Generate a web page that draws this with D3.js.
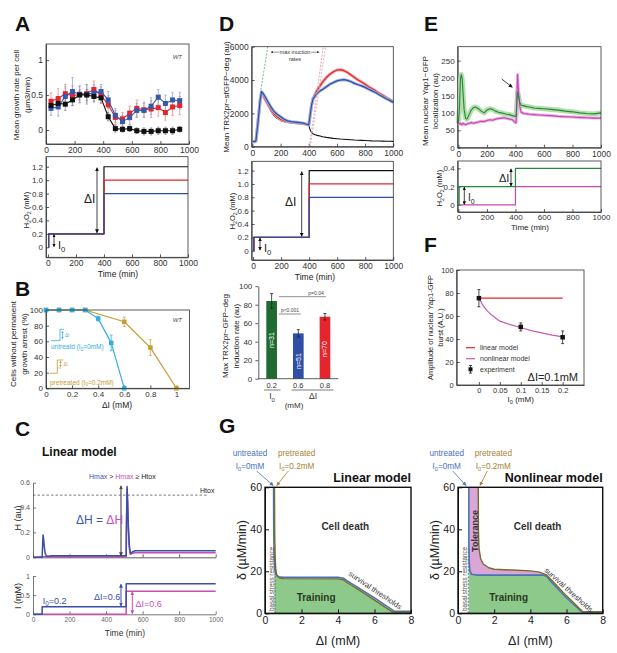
<!DOCTYPE html>
<html>
<head>
<meta charset="utf-8">
<title>Training and tolerance</title>
<script src="https://d3js.org/d3.v7.min.js"></script>
<style>
body { margin: 0; background: #fff; }
</style>
</head>
<body>
<script>
// ---------------- data ----------------
// A: mean growth rate per cell
var aTime = [35,85,135,185,235,285,335,385,435,485,535,585,635,685,735,785,835,885,935];
var aBlack = [0.35,0.38,0.37,0.43,0.50,0.50,0.48,0.46,0.19,0.02,0.01,0.02,-0.01,-0.02,-0.02,-0.01,-0.01,-0.01,0.01];
var aBlackErr = [0.06,0.07,0.09,0.08,0.07,0.08,0.08,0.07,0.06,0.05,0.04,0.04,0.04,0.05,0.05,0.05,0.05,0.05,0.04];
var aRed = [0.41,0.45,0.52,0.49,0.51,0.52,0.58,0.50,0.36,0.18,0.16,0.24,0.31,0.29,0.30,0.32,0.25,0.33,0.35];
var aRedErr = [0.12,0.14,0.13,0.14,0.12,0.13,0.12,0.12,0.13,0.10,0.09,0.10,0.12,0.11,0.12,0.12,0.11,0.12,0.13];
var aBlue = [0.31,0.33,0.48,0.55,0.51,0.51,0.53,0.55,0.43,0.21,0.12,0.18,0.28,0.28,0.34,0.47,0.38,0.43,0.42];
var aBlueErr = [0.10,0.13,0.14,0.20,0.12,0.14,0.12,0.10,0.12,0.10,0.09,0.10,0.10,0.10,0.12,0.11,0.12,0.11,0.12];

// H2O2 protocols (A, D)
var stepTime = [0, 5, 400, 1000];
var stepBlue = [0, 0.2, 0.8, 0.8];
var stepRed = [0, 0.2, 1.0, 1.0];
var stepBlack = [0, 0.2, 1.2, 1.2];

// B: survival
var bDose = [0, 0.1, 0.2, 0.3, 0.4, 0.5, 0.6];
var bUntreated = [100, 100, 100, 100, 89, 58, 0];
var bUntreatedErr = [0, 0, 0, 0, 3, 10, 0];
var bDosePre = [0, 0.1, 0.2, 0.3, 0.6, 0.8, 1.0];
var bPre = [100, 100, 100, 100, 85, 52, 0];
var bPreErr = [0, 0, 0, 0, 6, 10, 0];

// C: linear model
var cHBlue = [[0,0],[50,0],[52,0.08],[55,0.18],[58,0.15],[62,0.08],[67,0.03],[73,0.012],[80,0.008],[100,0.012],[510,0.012],[512,0.3],[515,0.57],[518,0.45],[522,0.25],[527,0.1],[532,0.04],[537,0.03],[545,0.045],[560,0.052],[1000,0.052]];
var cHPink = [[0,0],[60,0.004],[510,0.006],[512,0.3],[515,0.55],[518,0.42],[522,0.22],[527,0.08],[532,0.025],[540,0.03],[555,0.036],[1000,0.037]];
var cStepTime = [0, 50, 510, 1000];
var cIBlue = [0, 0.2, 0.8, 0.8];
var cIPink = [0, 0, 0.6, 0.6];

// D: TRX2pr-sfGFP-deg
var dTime = [0,15,25,40,55,65,75,90,110,130,150,175,200,225,250,275,300,325,350,375,400,410,420,430,445,460,480,500,525,550,575,600,625,650,675,700,725,750,775,800,825,850,875,900,925,950,975,1000];
var dBlack = [320,300,350,1500,2700,3150,3050,2800,2500,2150,1900,1700,1580,1500,1450,1420,1400,1380,1370,1340,1300,1000,850,780,720,680,640,600,560,530,500,480,460,445,430,415,400,390,380,370,360,350,345,340,335,330,325,320];
var dRed = [320,300,350,1500,2750,3200,3100,2850,2550,2250,2000,1800,1650,1550,1500,1470,1450,1420,1400,1350,1300,1900,2500,2900,3150,3400,3650,3900,4150,4350,4500,4600,4620,4560,4450,4300,4150,4000,3880,3750,3600,3480,3350,3200,3080,2950,2830,2700];
var dBlue = [320,300,350,1500,2800,3300,3200,3000,2700,2400,2150,1950,1800,1650,1550,1500,1480,1460,1430,1380,1300,1900,2500,2850,3050,3200,3350,3450,3600,3750,3850,3950,4000,4020,3980,3900,3800,3720,3650,3560,3450,3350,3250,3120,3000,2880,2780,2650];
var dTangentGreen = [[56,3200],[109,6000]];
var dTangentPink = [[405,0],[503,6000]];
var dTangentRed = [[410,0],[520,6000]];
var dBarCats = ["0.2", "0.6", "0.8"];
var dBarRates = [84, 49, 67];
var dBarErr = [8, 4, 3.5];
var dBarN = ["n=31", "n=51", "n=70"];

// E: nuclear Yap1-GFP
var eTime = [0,8,14,20,26,32,40,50,60,75,90,105,120,140,160,180,200,220,240,260,280,300,320,340,360,380,400,405,410,415,420,430,440,460,480,500,530,560,600,650,700,750,800,850,900,950,1000];
var eGreen = [70,120,195,210,200,160,110,85,82,95,108,115,117,112,105,100,108,112,110,105,102,100,98,96,95,92,90,92,130,160,150,130,122,120,118,117,114,113,112,110,108,105,103,100,98,97,100];
var eMagenta = [70,68,70,68,66,70,68,66,68,70,72,70,72,74,76,75,78,80,79,82,84,85,86,84,82,80,72,72,150,210,170,120,102,98,97,96,95,94,93,92,90,89,88,87,86,85,85];
var eStepTime = [0, 5, 400, 1000];
var eIGreen = [0, 0.2, 0.4, 0.4];
var eIMagenta = [0, 0, 0.2, 0.2];

// F: burst amplitude
var fI0 = [0, 0.1, 0.2];
var fAmp = [75.5, 50.5, 41.5];
var fAmpErr = [7.5, 3.5, 5.5];
var fLinI0 = [0, 0.2];
var fLin = [75.5, 75.5];
var fNonI0 = [0, 0.01, 0.02, 0.03, 0.05, 0.075, 0.1, 0.125, 0.15, 0.175, 0.2];
var fNon = [75.5, 69, 64.5, 61, 55.5, 52.5, 50, 47.3, 45.3, 43.3, 41.8];

// G: survival thresholds (dI, delta)
var gLinBlue = [[0.47,60],[0.48,40],[0.5,28],[0.54,21],[0.6,18.4],[0.75,17.4],[1,17.1],[4,17.1],[4.3,16.7],[4.5,15.4],[4.7,14.4],[5,12.8],[6,7.3],[7,1.5],[7.1,0.9],[8,0.9]];
var gLinBrown = [[0.52,60],[0.53,40],[0.55,28],[0.59,21],[0.65,18],[0.8,16.8],[1,16.5],[4,16.4],[4.3,16],[4.5,14.6],[4.7,13.6],[5,12],[6,6.3],[7,0.6],[8,0.6]];
var gNlBlue = [[0.6,60],[0.6,35],[0.62,24],[0.66,20],[0.75,18.6],[1,18.2],[4.7,18.2],[4.9,17.6],[5.2,14.6],[6,7.4],[6.85,0.7],[8,0.7]];
var gNlBrown = [[1.12,60],[1.13,40],[1.16,31],[1.25,26],[1.4,23.5],[1.7,21.7],[2,21],[3,20.6],[4,20.2],[4.5,19.6],[4.9,18.3],[5.2,15.6],[6,8.3],[6.9,0.7],[8,0.7]];

// ---------------- helpers ----------------
var FONT = "'Liberation Sans', Arial, Helvetica, sans-serif";
var svg = d3.select("body").append("svg").attr("width", 617).attr("height", 653)
  .attr("font-family", FONT);
var defs = svg.append("defs");

function rich(x, y, parts, size, o) {
  o = o || {};
  var t = svg.append("text").attr("x", x).attr("y", y).attr("font-size", size)
    .attr("fill", o.fill || "#222").attr("text-anchor", o.anchor || "start");
  if (o.bold) t.attr("font-weight", "bold");
  if (o.italic) t.attr("font-style", "italic");
  if (o.rot) t.attr("transform", "rotate(" + o.rot + "," + x + "," + y + ")");
  var shift = 0;
  (typeof parts === "string" ? [[parts]] : parts).forEach(function (p) {
    var s = t.append("tspan").text(p[0]);
    var target = p[1] ? size * 0.3 : 0;
    if (target !== shift) s.attr("dy", target - shift);
    shift = target;
    if (p[1]) s.attr("font-size", size * 0.7);
    if (p[2]) s.attr("fill", p[2]);
  });
  return t;
}

function ax(scale, orient, pos, ticks, fmt, o) {
  o = o || {};
  var gen = (orient === "b" ? d3.axisBottom : d3.axisLeft)(scale)
    .tickValues(ticks).tickFormat(fmt || function (d) { return d; })
    .tickSizeOuter(0).tickSizeInner(o.out ? 3 : -(o.tick || 3)).tickPadding(o.pad != null ? o.pad : 3);
  var g = svg.append("g")
    .attr("transform", orient === "b" ? "translate(0," + pos + ")" : "translate(" + pos + ",0)")
    .call(gen).attr("font-family", FONT).attr("font-size", o.size || 8);
  g.selectAll("path,line").attr("stroke", o.line || "#333").attr("stroke-width", o.lw || 0.8);
  g.selectAll(".tick text").attr("fill", o.color || "#333");
  return g;
}

function box(x0, y0, x1, y1, w, c) {
  svg.append("rect").attr("x", x0).attr("y", y0).attr("width", x1 - x0).attr("height", y1 - y0)
    .attr("fill", "none").attr("stroke", c || "#333").attr("stroke-width", w || 0.8);
}

var mcount = 0;
function arrow(x1, y1, x2, y2, color, w, both, size) {
  var id = "m" + (mcount++);
  size = size || 5;
  defs.append("marker").attr("id", id).attr("viewBox", "0 0 10 10").attr("refX", 9).attr("refY", 5)
    .attr("markerWidth", size).attr("markerHeight", size).attr("markerUnits", "userSpaceOnUse")
    .attr("orient", "auto-start-reverse")
    .append("path").attr("d", "M0,0L10,5L0,10z").attr("fill", color);
  var l = svg.append("line").attr("x1", x1).attr("y1", y1).attr("x2", x2).attr("y2", y2)
    .attr("stroke", color).attr("stroke-width", w || 1).attr("marker-end", "url(#" + id + ")");
  if (both) l.attr("marker-start", "url(#" + id + ")");
}

function path(d, color, w, dash) {
  var p = svg.append("path").attr("d", d).attr("fill", "none").attr("stroke", color)
    .attr("stroke-width", w || 1).attr("stroke-linejoin", "round");
  if (dash) p.attr("stroke-dasharray", dash);
  return p;
}

function stepLine(x, y, times, vals) {
  return d3.line().curve(d3.curveStepAfter).x(function (d, i) { return x(times[i]); })
    .y(function (d) { return y(d); })(vals);
}
function xyLine(x, y, xs, ys) {
  return d3.line().x(function (d, i) { return x(xs[i]); }).y(function (d) { return y(d); })(ys);
}
function pairLine(x, y, pts) {
  return d3.line().x(function (d) { return x(d[0]); }).y(function (d) { return y(d[1]); })(pts);
}
function errBars(x, y, xs, ys, es, color, cap) {
  ys.forEach(function (v, i) {
    if (!es[i]) return;
    var cx = x(xs[i]), a = y(v - es[i]), b = y(v + es[i]);
    path("M" + cx + "," + a + "V" + b + "M" + (cx - cap) + "," + a + "H" + (cx + cap) +
      "M" + (cx - cap) + "," + b + "H" + (cx + cap), color, 0.8);
  });
}
function squares(x, y, xs, ys, color, s) {
  svg.append("g").selectAll("rect").data(ys).join("rect")
    .attr("x", function (d, i) { return x(xs[i]) - s / 2; })
    .attr("y", function (d) { return y(d) - s / 2; })
    .attr("width", s).attr("height", s).attr("fill", color);
}
var f1 = function (d) { return d === 0 ? "0" : d3.format(".1f")(d); };

// ---------------- panel letters ----------------
[["A", 15, 31], ["B", 15, 296], ["C", 15, 436], ["D", 219, 31], ["E", 424, 31], ["F", 424, 252], ["G", 219, 433]]
  .forEach(function (p) { rich(p[1], p[2], p[0], 21, { bold: true, fill: "#111" }); });

// ---------------- A ----------------
var xA = d3.scaleLinear([0, 1000], [46, 189]);
var yA = d3.scaleLinear([-0.2, 1.23], [144, 44]);
ax(xA, "b", 144, [0, 200, 400, 600, 800, 1000], null, { size: 8.5 });
ax(yA, "l", 46, [0, 0.5, 1], null, { size: 8.5 });
errBars(xA, yA, aTime, aRed, aRedErr, "#f08a8a", 1.2);
errBars(xA, yA, aTime, aBlue, aBlueErr, "#8ea6da", 1.2);
errBars(xA, yA, aTime, aBlack, aBlackErr, "#8a8a8a", 1.2);
[[aRed, "#e4262c"], [aBlue, "#3558aa"], [aBlack, "#111"]].forEach(function (s) {
  path(xyLine(xA, yA, aTime, s[0]), s[1], 1.1);
  squares(xA, yA, aTime, s[0], s[1], 5);
});
box(46, 44, 189, 144);
rich(182, 59, "WT", 6, { italic: true, anchor: "end", fill: "#444" });
rich(18.5, 95, "Mean growth rate per cell", 8, { rot: -90, anchor: "middle" });
rich(29.5, 95, "(\u00b5m3/min)", 8, { rot: -90, anchor: "middle" });

var xA2 = d3.scaleLinear([-14, 1000], [46, 188]);
var yA2 = d3.scaleLinear([-0.15, 1.35], [257.3, 156.7]);
ax(xA2, "b", 257.3, [0, 200, 400, 600, 800, 1000], null, { size: 8.5 });
ax(yA2, "l", 46, [0, 0.2, 0.4, 0.6, 0.8, 1.0, 1.2], f1, { size: 8 });
path(stepLine(xA2, yA2, stepTime, stepBlack), "#111", 1.2);
path(stepLine(xA2, yA2, stepTime, stepRed), "#e4262c", 1.2);
path(stepLine(xA2, yA2, stepTime, stepBlue), "#2f4ea6", 1.2);
box(46, 156.7, 188, 257.3);
arrow(97, yA2(1.2) + 1, 97, yA2(0.2) - 1, "#111", 0.8, true, 4);
rich(84, 203, "\u0394I", 12);
arrow(54, yA2(0) - 0.5, 54, yA2(0.2) + 0.5, "#111", 0.8, true, 3.5);
rich(58, 249, [["I"], ["0", true]], 11);
rich(28.5, 210, [["H"], ["2", true], ["O"], ["2", true], [" (mM)"]], 7.5, { rot: -90, anchor: "middle" });
rich(118, 277, "Time (min)", 8.5, { anchor: "middle" });

// ---------------- B ----------------
var xB = d3.scaleLinear([0, 1.1], [46, 189.5]);
var yB = d3.scaleLinear([0, 100], [388.3, 310]);
ax(xB, "b", 388.3, [0, 0.2, 0.4, 0.6, 0.8, 1], null, { size: 8 });
ax(yB, "l", 46, [0, 20, 40, 60, 80, 100], null, { size: 8 });
errBars(xB, yB, bDosePre, bPre, bPreErr, "#d2aa55", 1.5);
path(xyLine(xB, yB, bDosePre, bPre), "#c99a30", 1.2);
squares(xB, yB, bDosePre, bPre, "#c99a30", 4.5);
errBars(xB, yB, bDose, bUntreated, bUntreatedErr, "#3cb0e2", 1.5);
path(xyLine(xB, yB, bDose, bUntreated), "#36ade0", 1.2);
squares(xB, yB, bDose, bUntreated, "#36ade0", 4.5);
box(46, 310, 189.5, 388.3);
rich(182, 322, "WT", 6, { italic: true, anchor: "end", fill: "#444" });
path("M51,340.7H60V329.3H64", "#36ade0", 0.8);
arrow(62.5, 331, 62.5, 339, "#36ade0", 0.6, true, 2.5);
rich(65, 337, "\u0394I", 4.5, { fill: "#36ade0" });
rich(51, 349.3, [["untreatd (I"], ["0", true], ["=0mM)"]], 6.5, { fill: "#36ade0" });
path("M50,373.3H57.3V360H63.5", "#c99a30", 0.8);
path("M57.3,368H61", "#c99a30", 0.6);
arrow(60.5, 361, 60.5, 367, "#c99a30", 0.6, true, 2.5);
rich(63.5, 366, "\u0394I", 4.5, { fill: "#c99a30" });
rich(50, 384.5, [["pretreated (I"], ["0", true], ["=0.2mM)"]], 6.5, { fill: "#c99a30" });
rich(15.5, 344, "Cells without permanent", 8, { rot: -90, anchor: "middle" });
rich(26.5, 344, "growth arrest (%)", 8, { rot: -90, anchor: "middle" });
rich(117, 408, "\u0394I (mM)", 8.5, { anchor: "middle" });

// ---------------- C ----------------
rich(42, 456, "Linear model", 12, { bold: true, fill: "#111" });
var xC = d3.scaleLinear([0, 1000], [33, 215.7]);
var yCt = d3.scaleLinear([0, 0.6], [557.3, 482.7]);
ax(xC, "b", 557.3, [0, 200, 400, 600, 800, 1000], function () { return ""; }, { size: 7 });
ax(yCt, "l", 33, [0, 0.2, 0.4, 0.6], f1, { size: 7, color: "#555", line: "#555" });
path("M33," + yCt(0.5) + "H208", "#444", 0.7, "2.5,2");
rich(200, 492.5, "Htox", 7, { fill: "#222" });
path(pairLine(xC, yCt, cHPink), "#c84fb0", 1.5);
path(pairLine(xC, yCt, cHBlue), "#3a4fa5", 1.5);
arrow(121, yCt(0.575), 121, yCt(0.012), "#444", 1.1, true, 4);
rich(76, 523.5, [["\u0394H = ", false, "#3d55b0"], ["\u0394H", false, "#c84fb0"]], 12);
rich(89, 479, [["Hmax", false, "#3d55b0"], [" > "], ["Hmax", false, "#c84fb0"], [" \u2265 Htox"]], 7);
rich(21, 518, "H (au)", 9, { rot: -90, anchor: "middle" });

var yCb = d3.scaleLinear([0, 1], [614.3, 576]);
ax(xC, "b", 614.3, [0, 200, 400, 600, 800, 1000], null, { size: 6.5, color: "#666", line: "#555" });
ax(yCb, "l", 33, [0, 0.5, 1], null, { size: 7, color: "#555", line: "#555" });
path(stepLine(xC, yCb, cStepTime, cIPink), "#c84fb0", 1.5);
path(stepLine(xC, yCb, cStepTime, cIBlue), "#3a4fa5", 1.5);
rich(42.7, 603.5, [["I"], ["0", true], ["=0.2"]], 9, { fill: "#3a4fa5" });
rich(94, 600, "\u0394I=0.6", 9, { fill: "#3a4fa5" });
arrow(121, yCb(0.2) - 0.5, 121, yCb(0.8) + 0.5, "#3a4fa5", 1, true, 4);
arrow(132.3, yCb(0) - 0.5, 132.3, yCb(0.6) + 0.5, "#c84fb0", 1, true, 4);
rich(135.5, 607, "\u0394I=0.6", 9, { fill: "#c84fb0" });
rich(21, 596, "I (mM)", 9, { rot: -90, anchor: "middle" });
rich(125, 636, "Time (min)", 8.5, { anchor: "middle", fill: "#333" });

// ---------------- D ----------------
var xD = d3.scaleLinear([-5, 1000], [251.7, 393.3]);
var yD = d3.scaleLinear([0, 6000], [146.7, 46.7]);
ax(xD, "b", 146.7, [0, 200, 400, 600, 800, 1000], null, { size: 8.5 });
ax(yD, "l", 251.7, [0, 2000, 4000, 6000], null, { size: 8.5 });
path(xyLine(xD, yD, dTime, dBlack), "#111", 1.1);
path(xyLine(xD, yD, dTime, dRed), "#f2a0a0", 3);
path(xyLine(xD, yD, dTime, dRed), "#e4262c", 1.2);
path(xyLine(xD, yD, dTime, dBlue), "#9fb2e0", 3);
path(xyLine(xD, yD, dTime, dBlue), "#2f4ea6", 1.2);
path(pairLine(xD, yD, dTangentGreen), "#4caa6a", 0.8, "2,1.5");
path(pairLine(xD, yD, dTangentPink), "#d68fbd", 0.8, "2,1.5");
path(pairLine(xD, yD, dTangentRed), "#e29a9a", 0.8, "2,1.5");
box(251.7, 46.7, 393.3, 146.7);
rich(295, 54, "max inuction", 5.5, { anchor: "middle", fill: "#333" });
rich(295, 61, "rates", 5.5, { anchor: "middle", fill: "#333" });
arrow(279, 52.2, 271, 52.2, "#333", 0.5, false, 2.5);
arrow(311, 52.2, 319, 52.2, "#333", 0.5, false, 2.5);
rich(229, 97, "Mean TRX2pr\u2212sfGFP\u2212deg (au)", 8, { rot: -90, anchor: "middle" });

var xD2 = d3.scaleLinear([-10, 1000], [251.7, 393.3]);
var yD2 = d3.scaleLinear([-0.14, 1.34], [260, 161.3]);
ax(xD2, "b", 260, [0, 200, 400, 600, 800, 1000], null, { size: 8.5 });
ax(yD2, "l", 251.7, [0, 0.2, 0.4, 0.6, 0.8, 1.0, 1.2], f1, { size: 8 });
path(stepLine(xD2, yD2, stepTime, stepBlack), "#111", 1.2);
path(stepLine(xD2, yD2, stepTime, stepRed), "#e4262c", 1.2);
path(stepLine(xD2, yD2, stepTime, stepBlue), "#2f4ea6", 1.2);
box(251.7, 161.3, 393.3, 260);
arrow(301.7, yD2(1.2) + 1, 301.7, yD2(0.2) - 1, "#111", 0.8, true, 4);
rich(285, 206, "\u0394I", 12);
arrow(260, yD2(0) - 0.5, 260, yD2(0.2) + 0.5, "#111", 0.8, true, 3.5);
rich(264, 252, [["I"], ["0", true]], 11);
rich(234.5, 211, [["H"], ["2", true], ["O"], ["2", true], [" (mM)"]], 7.5, { rot: -90, anchor: "middle" });
rich(315, 280, "Time (min)", 8.5, { anchor: "middle" });

var xDb = d3.scaleBand(dBarCats, [258.3, 338.3]).paddingInner(0.6).paddingOuter(0.3);
var yDb = d3.scaleLinear([0, 100], [378.7, 286.2]);
var barFill = ["#1f6b31", "#2f4ea6", "#e4262c"];
svg.append("g").selectAll("rect").data(dBarRates).join("rect")
  .attr("x", function (d, i) { return xDb(dBarCats[i]); })
  .attr("y", function (d) { return yDb(d); })
  .attr("width", xDb.bandwidth())
  .attr("height", function (d) { return yDb(0) - yDb(d); })
  .attr("fill", function (d, i) { return barFill[i]; });
errBars(function (c) { return xDb(c) + xDb.bandwidth() / 2; }, yDb, dBarCats, dBarRates, dBarErr, "#222", 1.5);
ax(yDb, "l", 258.3, [0, 20, 40, 60, 80, 100], null, { size: 8, out: true });
path("M258.3,378.7H338.3", "#333", 0.8);
var nY = [340, 361, 349];
dBarN.forEach(function (n, i) {
  rich(xDb(dBarCats[i]) + xDb.bandwidth() / 2 + 2.5, nY[i], n, 7, { rot: -90, anchor: "middle", fill: "#fff" });
  rich(xDb(dBarCats[i]) + xDb.bandwidth() / 2, 387.5, dBarCats[i], 7.5, { anchor: "middle", fill: "#333" });
});
path("M279,296.7H326", "#444", 0.6);
rich(316, 294.5, "p=0.04", 5, { anchor: "middle", fill: "#444" });
path("M279,314H300.7", "#444", 0.6);
rich(290, 311.8, "p<0.001", 5, { anchor: "middle", fill: "#444" });
path("M264,390H280.5M291.5,390H333.5", "#444", 0.7);
rich(272, 399, [["I"], ["0", true]], 8.5, { anchor: "middle", fill: "#333" });
rich(313, 399, "\u0394I", 8.5, { anchor: "middle", fill: "#333" });
rich(294, 408, "(mM)", 8, { anchor: "middle", fill: "#333" });
rich(227.5, 336, "Max TRX2pr\u2212GFP\u2212deg", 8, { rot: -90, anchor: "middle" });
rich(238.5, 336, "induction rate (au)", 8, { rot: -90, anchor: "middle" });

// ---------------- E ----------------
var xE = d3.scaleLinear([-5, 1000], [457.7, 601]);
var yE = d3.scaleLinear([0, 290], [147.7, 46.7]);
ax(xE, "b", 147.7, [0, 200, 400, 600, 800, 1000], null, { size: 8.5 });
ax(yE, "l", 457.7, [0, 50, 100, 150, 200, 250], null, { size: 8 });
path(xyLine(xE, yE, eTime, eGreen), "#b5ddab", 5);
path(xyLine(xE, yE, eTime, eMagenta), "#e6aee0", 3);
path(xyLine(xE, yE, eTime, eMagenta), "#c548b5", 1.1);
path(xyLine(xE, yE, eTime, eGreen), "#228a3a", 1.1);
box(457.7, 46.7, 601, 147.7);
arrow(501.7, 79, 512.3, 87.3, "#111", 0.8, false, 4);
rich(427.7, 101, "Mean nuclear Yap1\u2212GFP", 8, { rot: -90, anchor: "middle" });
rich(437.7, 101, "localization (au)", 8, { rot: -90, anchor: "middle" });

var yE2 = d3.scaleLinear([-0.077, 0.48], [212, 161]);
ax(xE, "b", 212, [0, 200, 400, 600, 800, 1000], null, { size: 8, pad: 2 });
ax(yE2, "l", 457.7, [0, 0.2, 0.4], null, { size: 8 });
path(stepLine(xE, yE2, eStepTime, eIMagenta), "#c548b5", 1.2);
path(stepLine(xE, yE2, eStepTime, eIGreen), "#228a3a", 1.2);
box(457.7, 161, 601, 212);
arrow(511, yE2(0.4) + 0.5, 511, yE2(0.2) - 0.5, "#111", 0.8, true, 3.5);
rich(499, 182, "\u0394I", 11);
arrow(464.3, yE2(0) - 0.5, 464.3, yE2(0.2) + 0.5, "#111", 0.8, true, 3.5);
rich(468, 201, [["I"], ["0", true]], 10);
rich(442, 188, [["H"], ["2", true], ["O"], ["2", true], [" (mM)"]], 7.5, { rot: -90, anchor: "middle" });
rich(530, 229.5, "Time (min)", 8, { anchor: "middle" });

// ---------------- F ----------------
var xF = d3.scaleLinear([-0.053, 0.251], [456.7, 584]);
var yF = d3.scaleLinear([0, 100], [385, 270]);
ax(xF, "b", 385, [0, 0.05, 0.1, 0.15, 0.2], null, { size: 7.5 });
ax(yF, "l", 456.7, [0, 20, 40, 60, 80, 100], null, { size: 7.5 });
path(xyLine(xF, yF, fLinI0, fLin), "#e0262b", 1.2);
path(xyLine(xF, yF, fNonI0, fNon), "#c65bb4", 1.2);
errBars(xF, yF, fI0, fAmp, fAmpErr, "#222", 1.5);
squares(xF, yF, fI0, fAmp, "#111", 4.5);
box(456.7, 270, 584, 385);
path("M466,347.7H475", "#e0262b", 1.2);
rich(480, 350.2, "linear model", 7, { fill: "#333" });
path("M466,358.7H475", "#c65bb4", 1.2);
rich(480, 361.2, "nonlinear model", 7, { fill: "#333" });
path("M470.5,365.5V373.1M469,365.5H472M469,373.1H472", "#222", 0.8);
svg.append("rect").attr("x", 468.5).attr("y", 367.3).attr("width", 4).attr("height", 4).attr("fill", "#111");
rich(480, 372, "experiment", 7, { fill: "#333" });
rich(578, 381, "\u0394I=0.1mM", 11, { anchor: "end", fill: "#222" });
rich(432.5, 327.5, "Amplitude of nuclear Yap1-GFP", 7.5, { rot: -90, anchor: "middle" });
rich(442.5, 327.5, "burst (A.U.)", 7.5, { rot: -90, anchor: "middle" });
rich(520.7, 402, [["I"], ["0", true], [" (mM)"]], 8, { anchor: "middle" });

// ---------------- G ----------------
var yG = d3.scaleLinear([0, 60], [613.3, 487.3]);
function gPanel(x, blue, brown, x0, title, basalX, nonlinear) {
  var area = d3.area().x(function (d) { return x(d[0]); }).y0(yG(0)).y1(function (d) { return yG(d[1]); });
  svg.append("path").attr("d", area(nonlinear ? blue : brown)).attr("fill", "#8cc98a");
  if (nonlinear) {
    // tolerance region: between pretreated and untreated curves
    var top = brown.filter(function (d) { return d[0] <= 4.9; });
    var bot = blue.filter(function (d) { return d[0] <= 4.7; }).slice().reverse();
    svg.append("path").attr("d", pairLine(x, yG, top.concat(bot)) + "Z").attr("fill", "#d9a6d6");
  }
  path("M" + x(basalX) + "," + yG(0) + "V" + yG(32), "#555", 0.8, "2,1.5");
  path(pairLine(x, yG, blue), "#4a72b8", 1.6);
  path(pairLine(x, yG, brown), "#7a6a2c", 1.4);
  ax(x, "b", 613.3, [0, 2, 4, 6, 8], null, { size: 10.5, lw: 1, line: "#111", color: "#222", tick: 4 });
  ax(yG, "l", x0, [0, 20, 40, 60], null, { size: 10.5, lw: 1, line: "#111", color: "#222", tick: 4 });
  box(x0, 487.3, x(8), 613.3, 1.4, "#111");
  rich(x(8), 482, title, 12.5, { bold: true, anchor: "end", fill: "#111" });
  rich(x0 - 19, 550, "\u03b4 (\u00b5M/min)", 12.5, { rot: -90, anchor: "middle", fill: "#222" });
  rich((x0 + x(8)) / 2, 645, "\u0394I (mM)", 12.5, { anchor: "middle", fill: "#222" });
  rich(x(4.4), 530, "Cell death", 10, { bold: true, anchor: "middle", fill: "#333" });
  rich(x(2.8), 601, "Training", 10, { bold: true, anchor: "middle", fill: "#2b3a22" });
  rich(x(basalX) - 1.5, 611, "basal stress resistance", 6.3, { rot: -90, fill: "#555" });
}
var xGl = d3.scaleLinear([0, 8], [265, 411]);
var xGr = d3.scaleLinear([0, 8], [458, 602.7]);
gPanel(xGl, gLinBlue, gLinBrown, 265, "Linear model", 0.55, false);
gPanel(xGr, gNlBlue, gNlBrown, 458, "Nonlinear model", 0.57, true);
rich(xGl(4.55), 575, "survival thresholds", 7.5, { rot: 34, fill: "#333" });
rich(xGr(4.75), 571, "survival thresholds", 7.5, { rot: 42, fill: "#333" });
rich(477.5, 531, "Tolerance", 9, { rot: -90, anchor: "middle", bold: true, fill: "#333" });

[[250, 296.7, 256.7, 273.3, 288.3, 276.7], [446.7, 493.3, 452.7, 466, 487.3, 480]].forEach(function (p) {
  rich(p[0], 456, "untreated", 8.2, { anchor: "middle", fill: "#4a72b8" });
  rich(p[0], 468.5, [["I"], ["0", true], ["=0mM"]], 8.2, { anchor: "middle", fill: "#4a72b8" });
  rich(p[1], 456, "pretreated", 8.2, { anchor: "middle", fill: "#a58434" });
  rich(p[1], 468.5, [["I"], ["0", true], ["=0.2mM"]], 8.2, { anchor: "middle", fill: "#a58434" });
  arrow(p[2], 471, p[3], 485.5, "#4a72b8", 0.8, false, 4);
  arrow(p[4], 471, p[5], 485.5, "#a58434", 0.8, false, 4);
});
</script>
</body>
</html>
